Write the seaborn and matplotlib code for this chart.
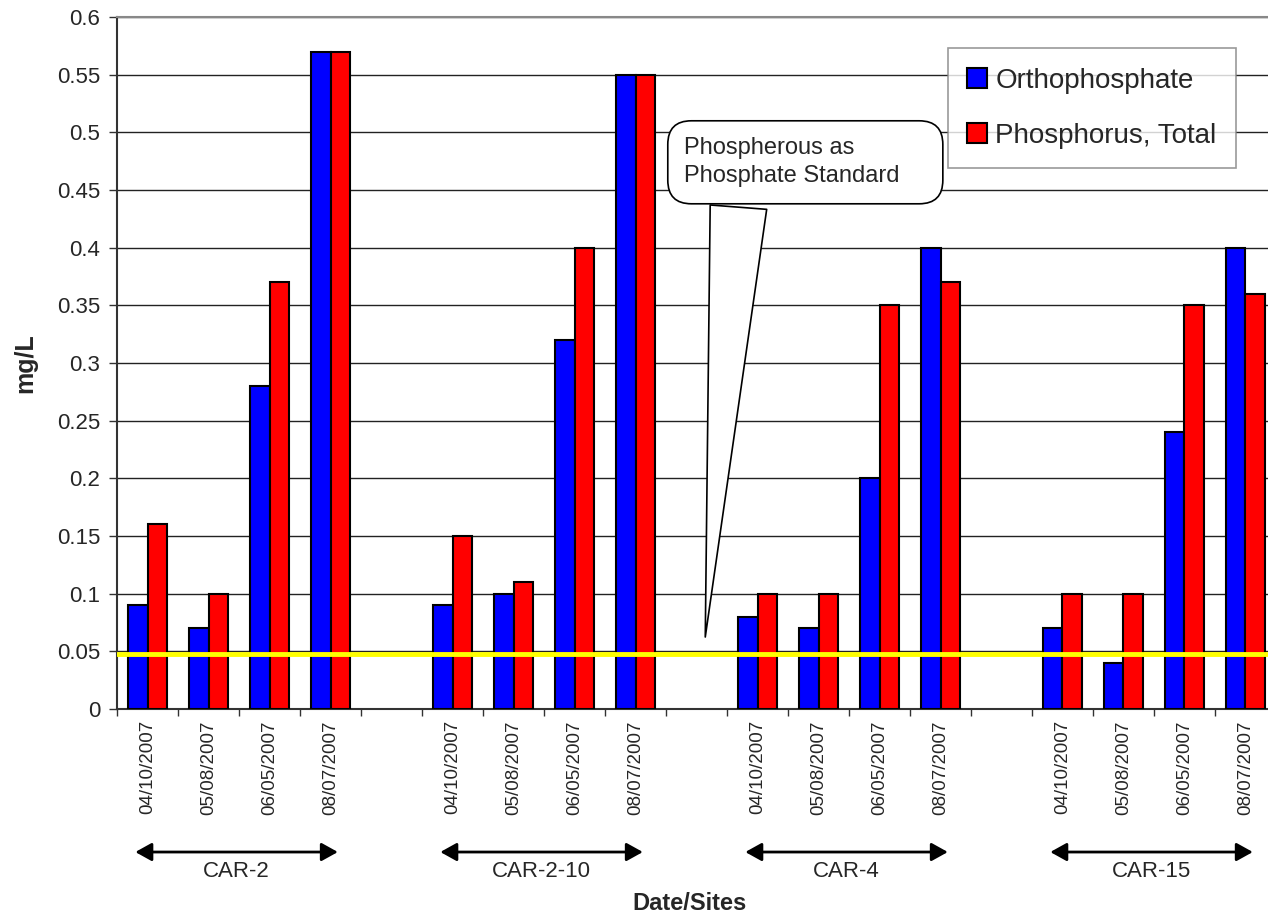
import numpy as np
import pandas as pd
import matplotlib
matplotlib.use("Agg")
import matplotlib.pyplot as plt
import matplotlib.transforms as mtransforms
import seaborn as sns

sites = ["CAR-2", "CAR-2-10", "CAR-4", "CAR-15"]
dates = ["04/10/2007", "05/08/2007", "06/05/2007", "08/07/2007"]
ortho = [0.09, 0.07, 0.28, 0.57,
         0.09, 0.10, 0.32, 0.55,
         0.08, 0.07, 0.20, 0.40,
         0.07, 0.04, 0.24, 0.40]
total = [0.16, 0.10, 0.37, 0.57,
         0.15, 0.11, 0.40, 0.55,
         0.10, 0.10, 0.35, 0.37,
         0.10, 0.10, 0.35, 0.36]
standard = 0.048
series = ["Orthophosphate", "Phosphorus, Total"]

sns.set_style("white")
plt.rcParams["font.family"] = ["Liberation Sans", "DejaVu Sans"]

# one empty slot between sites
slot = [s * 5 + d for s in range(len(sites)) for d in range(len(dates))]
df = pd.DataFrame({
    "pos": slot * 2,
    "value": ortho + total,
    "series": [series[0]] * 16 + [series[1]] * 16,
})

fig = plt.figure(figsize=(12.68, 9.22), dpi=100)
ax = fig.add_axes([0.0923, 0.231, 0.9140, 0.7506])

sns.barplot(data=df, x="pos", y="value", hue="series", native_scale=True,
            palette=["#0000FF", "#FF0000"], width=0.64, dodge=True,
            edgecolor="black", linewidth=1.5, saturation=1, ax=ax, zorder=3)

n_slots = len(sites) * 5 - 1
ax.set_xlim(-0.5, n_slots - 0.5)
ax.set_ylim(0, 0.6)
ax.set_yticks(np.arange(0, 0.601, 0.05))
ax.set_yticklabels(["0"] + [f"{v:g}" for v in np.arange(0.05, 0.601, 0.05)], fontsize=16)
ax.yaxis.grid(True, color="#222222", linewidth=1.0, zorder=0)
ax.set_axisbelow(True)

# tick marks at slot boundaries, labels at slot centres
ax.set_xticks(np.arange(-0.5, n_slots, 1.0))
ax.set_xticklabels([])
ax.set_xticks(slot, minor=True)
ax.set_xticklabels(dates * len(sites), minor=True, rotation=90, fontsize=13.5, va="top")
ax.tick_params(axis="x", which="major", direction="out", length=5, width=1, color="#333333", bottom=True)
ax.tick_params(axis="x", which="minor", length=0, pad=8)
ax.tick_params(axis="y", direction="out", length=6, width=1, color="#333333", left=True, pad=6)

for side in ["left", "bottom"]:
    ax.spines[side].set_color("#333333")
    ax.spines[side].set_linewidth(1.5)
ax.spines["top"].set_color("#888888")
ax.spines["top"].set_linewidth(1.5)
ax.spines["right"].set_visible(False)

ax.axhline(standard, color="#FFFF00", linewidth=3.5, zorder=4)

ax.set_ylabel("mg/L", fontsize=18, fontweight="bold", labelpad=14)
ax.set_xlabel("")
fig.text(0.544, 0.0206, "Date/Sites", ha="center", va="center", fontsize=17, fontweight="bold")

# site arrows under the date labels
trans = mtransforms.blended_transform_factory(ax.transData, fig.transFigure)
for i, site in enumerate(sites):
    x0 = i * 5 - 0.2
    x1 = i * 5 + 3.12
    ax.annotate("", xy=(x0, 0.0759), xytext=(x1, 0.0759), xycoords=trans, textcoords=trans,
                arrowprops=dict(arrowstyle="<|-|>,head_length=0.45,head_width=0.25", color="black",
                                lw=2, mutation_scale=22, shrinkA=0, shrinkB=0),
                annotation_clip=False)
    ax.text((x0 + x1) / 2, 0.0553, site, transform=trans, ha="center", va="center", fontsize=16)

# callout
ax.annotate("Phospherous as\nPhosphate Standard    ", xy=(9.14, 0.06), xytext=(8.8, 0.474),
            fontsize=17, ha="left", va="center", linespacing=1.35,
            bbox=dict(boxstyle="round,pad=0.7,rounding_size=1.0", fc="white", ec="black", lw=1.2),
            arrowprops=dict(arrowstyle="wedge,tail_width=2.4,shrink_factor=0.5", fc="white",
                            ec="black", lw=1.2, relpos=(0.23, 0.0)),
            zorder=6)

leg = ax.legend(loc="upper left", bbox_to_anchor=(0.717, 0.955), fontsize=20,
                frameon=True, fancybox=False, edgecolor="#808080", handlelength=0.7,
                handleheight=0.7, labelspacing=1.05, borderpad=0.7, handletextpad=0.3,
                borderaxespad=0)
leg.get_frame().set_linewidth(1.2)
leg.set_zorder(7)

fig.savefig("out.png", dpi=100, facecolor="white")
